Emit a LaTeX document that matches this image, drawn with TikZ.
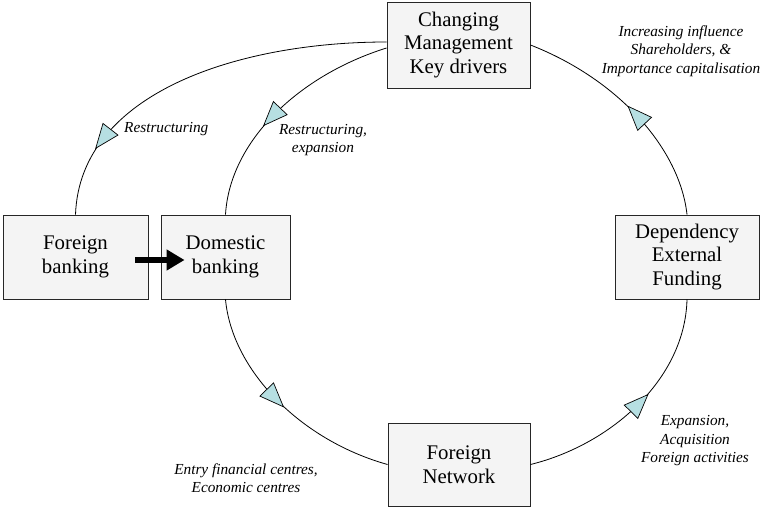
\documentclass[tikz,border=0pt]{standalone}
\usepackage{fontspec}
\setmainfont{Liberation Serif}
\usetikzlibrary{arrows.meta,calc,decorations.markings}
\definecolor{boxfill}{RGB}{244,244,244}
\definecolor{triblue}{RGB}{182,223,226}
\tikzset{
  box/.style={draw=black!85, line width=0.9pt, fill=boxfill, rectangle, align=center,
    inner sep=0pt, font=\fontsize{20.8}{23.5}\selectfont},
  lbl/.style={align=center, inner sep=0pt, font=\fontsize{15.3}{18.5}\selectfont\itshape},
  conn/.style={draw=black, line width=0.8pt},
  tri/.style={draw=black, line width=0.7pt, fill=triblue, line join=miter},
  trimark/.style={postaction={decorate}, decoration={markings,
    mark=at position #1 with {\draw[tri] (12pt,0pt) -- (-12pt,9.5pt) -- (-12pt,-9.5pt) -- cycle;}}},
  bigarrow/.style={line width=6pt, -{Triangle[length=18pt,width=20pt]}}
}
\begin{document}
\begin{tikzpicture}[x=1pt,y=-1pt]
\useasboundingbox (0,0) rectangle (761,508);
% boxes
\node[box, minimum width=143pt, minimum height=86pt] (cm) at (458.5,45) {Changing\\Management\\Key drivers};
\node[box, minimum width=145pt, minimum height=84pt] (fb) at (75.5,257) {Foreign\\banking};
\node[box, minimum width=129pt, minimum height=84pt] (dom) at (225.5,257) {Domestic\\banking};
\node[box, minimum width=144pt, minimum height=84pt] (dep) at (687,257) {Dependency\\External\\Funding};
\node[box, minimum width=142pt, minimum height=83pt] (fn) at (459,464.5) {Foreign\\Network};
% connectors
\path[conn, trimark=0.79] ($(cm.west)+(0,-3)$) .. controls (240,42) and (80,92) .. (fb.north);
\path[conn, trimark=0.55] ($(cm.west)+(0,3)$) .. controls (300,75) and (230,140) .. (dom.north);
\path[conn, trimark=0.46] (dom.south) .. controls (232,370) and (300,440) .. (fn.west);
\path[conn, trimark=0.52] (fn.east) .. controls (610,445) and (685,380) .. (dep.south);
\path[conn, trimark=0.47] (dep.north) .. controls (680,150) and (620,80) .. (cm.east);
% big arrow
\draw[bigarrow] ($(fb.east)+(-13,3)$) -- ($(dom.west)+(24,3)$);
% labels
\node[lbl] (l1) at (681,51) {Increasing influence\\Shareholders, \&\\Importance capitalisation};
\node[lbl, anchor=west] (l2) at (124,129) {Restructuring};
\node[lbl] (l3) at (323,140) {Restructuring,\\expansion};
\node[lbl] (l4) at (246,478) {Entry financial centres,\\Economic centres};
\node[lbl] (l5) at (695,441) {Expansion,\\Acquisition\\Foreign activities};
\end{tikzpicture}
\end{document}
